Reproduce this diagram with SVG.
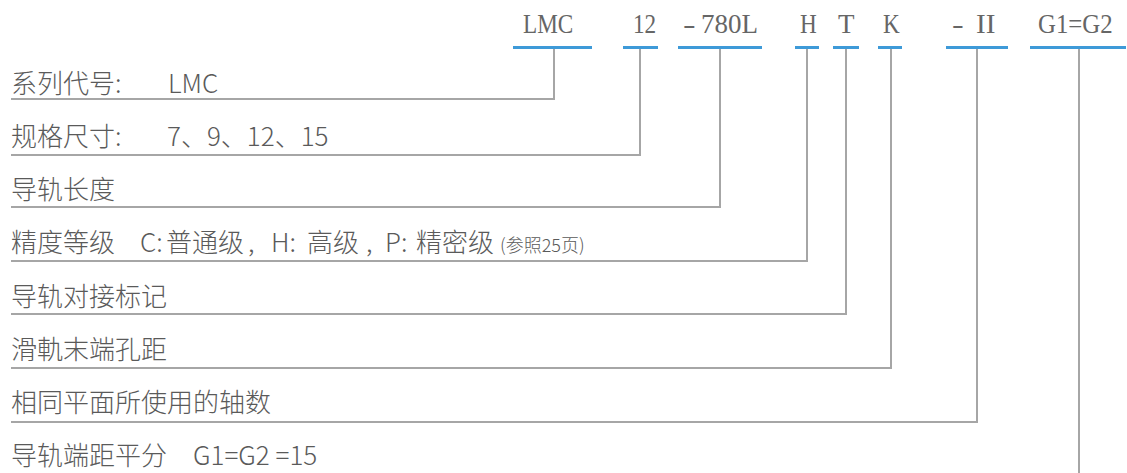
<svg xmlns="http://www.w3.org/2000/svg" width="1127" height="473" viewBox="0 0 1127 473">
<style>
.code{font-family:"Liberation Serif","Noto Serif",serif;font-size:27px;fill:#666;}
.lbl{font-family:"Noto Sans CJK SC","Noto Sans",sans-serif;font-size:26px;font-weight:300;fill:#5a5a5a;}
.sm{font-size:18px;}
.blue{stroke:#3e9ad8;stroke-width:3;fill:none;}
.conn{stroke:#a6a6a6;stroke-width:2;fill:none;}
</style>
<rect width="1127" height="473" fill="#fff"/>
<g id="codes">
<g id="code-lmc"><text class="code" transform="translate(523,33) scale(0.86,1)">LMC</text><line class="blue" x1="513" y1="47.5" x2="592" y2="47.5"/></g>
<g id="code-12"><text class="code" transform="translate(633,33) scale(0.86,1)">12</text><line class="blue" x1="623" y1="47.5" x2="658" y2="47.5"/></g>
<g id="code-780l"><text class="code" transform="translate(683,33) scale(1.4,1)">-</text><text class="code" transform="translate(701,33)">780L</text><line class="blue" x1="678" y1="47.5" x2="762" y2="47.5"/></g>
<g id="code-h"><text class="code" transform="translate(800,33) scale(0.86,1)">H</text><line class="blue" x1="795" y1="47.5" x2="819" y2="47.5"/></g>
<g id="code-t"><text class="code" transform="translate(838,33)">T</text><line class="blue" x1="833" y1="47.5" x2="859" y2="47.5"/></g>
<g id="code-k"><text class="code" transform="translate(883,33) scale(0.86,1)">K</text><line class="blue" x1="878" y1="47.5" x2="902" y2="47.5"/></g>
<g id="code-ii"><text class="code" transform="translate(952,33) scale(1.3,1)">-</text><text class="code" transform="translate(976,33) scale(1.08,1)">II</text><line class="blue" x1="946" y1="47.5" x2="1008" y2="47.5"/></g>
<g id="code-g"><text class="code" transform="translate(1038,33) scale(0.92,1)">G1=G2</text><line class="blue" x1="1030" y1="47.5" x2="1126" y2="47.5"/></g>
</g>
<g id="labels">
<g id="row1"><text class="lbl" x="11" y="93">系列代号:<tspan x="168">LMC</tspan></text></g>
<g id="row2"><text class="lbl" x="11" y="146">规格尺寸:<tspan x="167">7、9、12、15</tspan></text></g>
<g id="row3"><text class="lbl" x="11" y="199">导轨长度</text></g>
<g id="row4"><text class="lbl" x="11" y="252">精度等级<tspan x="140">C:</tspan><tspan x="166">普通级</tspan><tspan x="248">,</tspan><tspan x="271">H:</tspan><tspan x="307">高级</tspan><tspan x="366">,</tspan><tspan x="385">P:</tspan><tspan x="416">精密级</tspan><tspan class="sm" x="500">(参照25页)</tspan></text></g>
<g id="row5"><text class="lbl" x="11" y="306">导轨对接标记</text></g>
<g id="row6"><text class="lbl" x="11" y="359">滑軌末端孔距</text></g>
<g id="row7"><text class="lbl" x="11" y="412">相同平面所使用的轴数</text></g>
<g id="row8"><text class="lbl" x="11" y="465">导轨端距平分<tspan x="193">G1=G2 =15</tspan></text></g>
</g>
<g id="connectors">
<polyline class="conn" points="554,49 554,99 11,99"/>
<polyline class="conn" points="640,49 640,155 11,155"/>
<polyline class="conn" points="720,49 720,207 11,207"/>
<polyline class="conn" points="807,49 807,261 11,261"/>
<polyline class="conn" points="846,49 846,314 11,314"/>
<polyline class="conn" points="891,49 891,368 11,368"/>
<polyline class="conn" points="977,49 977,422 11,422"/>
<line class="conn" x1="1079" y1="49" x2="1079" y2="473"/>
</g>
</svg>
